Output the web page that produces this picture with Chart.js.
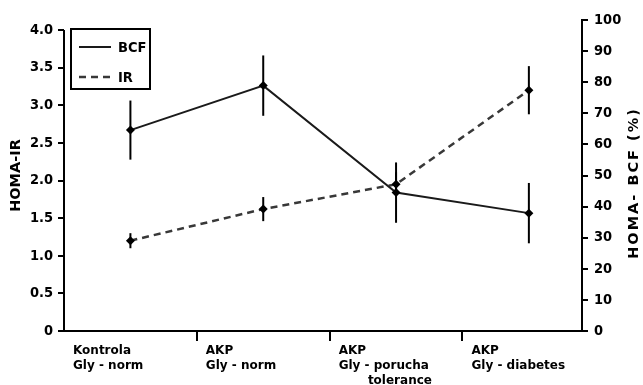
<!DOCTYPE html>
<html>
<head>
<meta charset="utf-8">
<script src="https://cdn.jsdelivr.net/npm/chart.js@4.4.1/dist/chart.umd.min.js"></script>
<style>
html, body { margin: 0; padding: 0; background: #fff; }
</style>
</head>
<body>
<canvas id="HomaCanvas" width="643" height="385"></canvas>
<script>
// categories (x) - one label per group, multi-line
var categories = [
    ["Kontrola", "Gly - norm"],
    ["AKP", "Gly - norm"],
    ["AKP", "Gly - porucha", "       tolerance"],
    ["AKP", "Gly - diabetes"]
];
// HOMA-BCF (%) - right axis
var bcfValues = [64.6, 78.9, 44.5, 37.9];
var bcfErrors = [9.5, 9.7, 9.7, 9.7];
// HOMA-IR - left axis
var irValues = [1.20, 1.62, 1.95, 3.20];
var irErrors = [0.10, 0.16, 0.16, 0.32];
// tick labels
var irTicks = [0, 0.5, 1, 1.5, 2, 2.5, 3, 3.5, 4];
var bcfTicks = [0, 10, 20, 30, 40, 50, 60, 70, 80, 90, 100];

var tickFont = "'DejaVu Sans Condensed', 'DejaVu Sans', sans-serif";
var boldFont = "'DejaVu Sans', 'Liberation Sans', sans-serif";

function toPoints(values) {
    return values.map(function (v, i) { return { x: i, y: v }; });
}

var extrasPlugin = {
    id: 'extras',
    beforeDatasetsDraw: function (chart) {
        var ctx = chart.ctx;
        var xs = chart.scales.x;
        ctx.save();
        ctx.strokeStyle = '#000';
        ctx.lineWidth = 2;
        chart.data.datasets.forEach(function (ds) {
            var ys = chart.scales[ds.yAxisID];
            ds.data.forEach(function (p, i) {
                var e = ds.errors[i];
                var px = xs.getPixelForValue(p.x);
                ctx.beginPath();
                ctx.moveTo(px, ys.getPixelForValue(p.y - e));
                ctx.lineTo(px, ys.getPixelForValue(p.y + e));
                ctx.stroke();
            });
        });
        ctx.restore();
    },
    afterDraw: function (chart) {
        var ctx = chart.ctx;
        var area = chart.chartArea;
        var yl = chart.scales.y;
        ctx.save();
        // left axis line, only up to the last tick
        ctx.strokeStyle = '#000';
        ctx.lineWidth = 2;
        ctx.beginPath();
        ctx.moveTo(area.left, yl.getPixelForValue(0) + 1);
        ctx.lineTo(area.left, yl.getPixelForValue(irTicks[irTicks.length - 1]));
        ctx.stroke();

        // legend box
        var lx = area.left + 7, ly = area.top + 9;
        ctx.strokeRect(lx, ly, 79, 60);
        chart.data.datasets.forEach(function (ds, k) {
            var cy = ly + 18 + k * 30;
            ctx.beginPath();
            ctx.strokeStyle = ds.borderColor;
            ctx.lineWidth = ds.borderWidth;
            ctx.setLineDash(ds.borderDash || []);
            ctx.moveTo(lx + 8, cy);
            ctx.lineTo(lx + 40, cy);
            ctx.stroke();
            ctx.setLineDash([]);
            ctx.fillStyle = '#000';
            ctx.font = 'bold 14.5px ' + tickFont;
            ctx.textBaseline = 'middle';
            ctx.textAlign = 'left';
            ctx.fillText(ds.label, lx + 47, cy + 1);
        });

        // right axis title, reading bottom to top
        ctx.translate(634, 183);
        ctx.rotate(-Math.PI / 2);
        ctx.font = 'bold 14.5px ' + boldFont;
        ctx.letterSpacing = '2px';
        ctx.textAlign = 'center';
        ctx.textBaseline = 'middle';
        ctx.fillStyle = '#000';
        ctx.fillText('HOMA- BCF (%)', 0, 0);
        ctx.restore();
    }
};

var HomaCtx = document.getElementById("HomaCanvas").getContext("2d");

window.Homa = new Chart(HomaCtx, {
    type: 'line',
    data: {
        datasets: [{
            label: 'BCF',
            data: toPoints(bcfValues),
            errors: bcfErrors,
            yAxisID: 'y2',
            borderColor: '#1a1a1a',
            borderWidth: 2,
            pointStyle: 'rectRot',
            pointRadius: 4.5,
            pointBackgroundColor: '#000',
            pointBorderWidth: 0,
            tension: 0
        }, {
            label: 'IR',
            data: toPoints(irValues),
            errors: irErrors,
            yAxisID: 'y',
            borderColor: '#383838',
            borderWidth: 2.5,
            borderDash: [7, 5],
            pointStyle: 'rectRot',
            pointRadius: 4.5,
            pointBackgroundColor: '#000',
            pointBorderWidth: 0,
            tension: 0
        }]
    },
    options: {
        responsive: false,
        animation: false,
        layout: { padding: { top: 20, left: 0, right: 0, bottom: 0 } },
        plugins: {
            legend: { display: false },
            tooltip: { enabled: false }
        },
        scales: {
            x: {
                type: 'linear',
                min: -0.5,
                max: 3.4,
                afterBuildTicks: function (scale) {
                    scale.ticks = [-0.5, 0.5, 1.5, 2.5].map(function (v) { return { value: v }; });
                },
                afterFit: function (scale) { scale.height = 54; },
                ticks: {
                    autoSkip: false,
                    maxRotation: 0,
                    align: 'start',
                    labelOffset: 9,
                    padding: 2,
                    color: '#000',
                    font: { family: boldFont, size: 12, weight: 'bold', lineHeight: 1.25 },
                    callback: function (v, i) { return categories[i]; }
                },
                grid: {
                    drawOnChartArea: false,
                    tickLength: 10,
                    lineWidth: 2,
                    tickColor: function (c) { return c.index === 0 ? 'rgba(0,0,0,0)' : '#000'; }
                },
                border: { color: '#000', width: 2 }
            },
            y: {
                position: 'left',
                min: 0,
                max: 4.133,
                afterBuildTicks: function (scale) {
                    scale.ticks = irTicks.map(function (v) { return { value: v }; });
                },
                afterFit: function (scale) { scale.width = 64; },
                ticks: {
                    color: '#000',
                    padding: 5,
                    font: { family: tickFont, size: 14.5, weight: 'bold' },
                    callback: function (v) { return v === 0 ? '0' : v.toFixed(1); }
                },
                grid: { drawOnChartArea: false, tickLength: 6, lineWidth: 2, color: '#000' },
                border: { display: false },
                title: {
                    display: true,
                    text: 'HOMA-IR',
                    color: '#000',
                    font: { family: boldFont, size: 14.5, weight: 'bold' },
                    padding: { top: 8, bottom: 0 }
                }
            },
            y2: {
                position: 'right',
                min: 0,
                max: 100,
                afterBuildTicks: function (scale) {
                    scale.ticks = bcfTicks.map(function (v) { return { value: v }; });
                },
                afterFit: function (scale) { scale.width = 61; },
                ticks: {
                    color: '#000',
                    padding: 6,
                    font: { family: tickFont, size: 14.5, weight: 'bold' }
                },
                grid: { drawOnChartArea: false, tickLength: 6, lineWidth: 2, color: '#000' },
                border: { color: '#000', width: 2 }
            }
        }
    },
    plugins: [extrasPlugin]
});
</script>
</body>
</html>
